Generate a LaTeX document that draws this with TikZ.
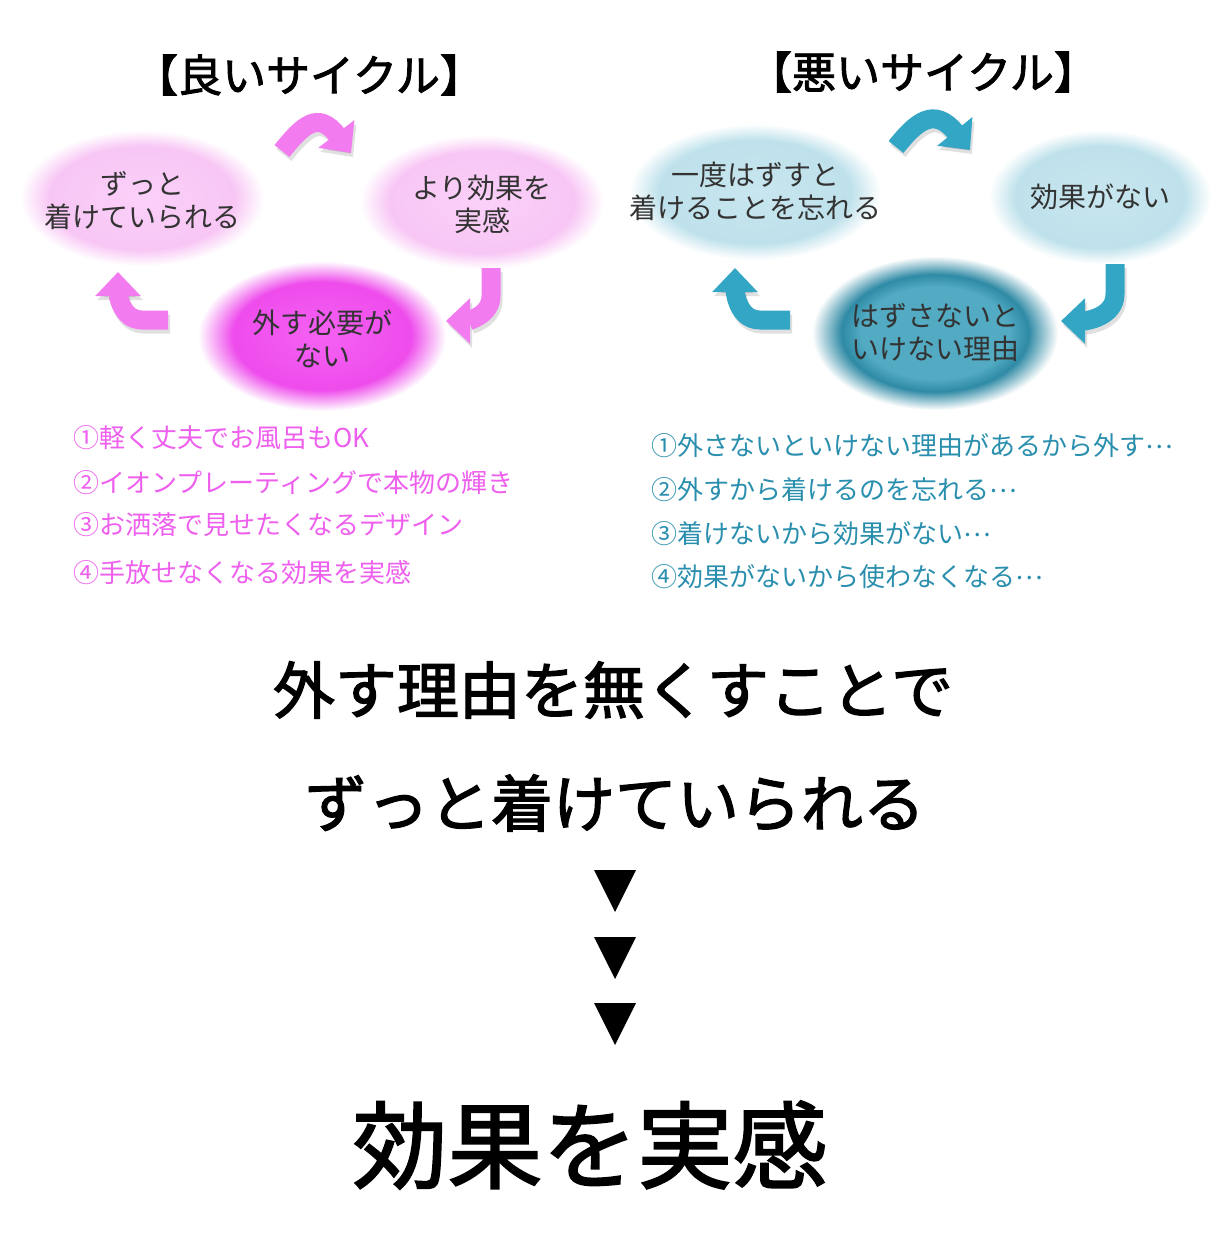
\documentclass[tikz,border=0pt]{standalone}
\usepackage{fontspec}
\setmainfont{Noto Sans CJK JP}
\usetikzlibrary{arrows.meta,shapes.geometric}
\newcommand\mystroke[2]{\special{pdf:literal direct 2 Tr #1 w}#2\special{pdf:literal direct 0 Tr}}
\newcommand\middots{\raisebox{0.3em}{…}}
\definecolor{pinkA}{HTML}{F8C6F5}
\definecolor{pinkAc}{HTML}{FAD0F8}
\definecolor{pinkC}{HTML}{F562F3}
\definecolor{pinkCe}{HTML}{EE4CEC}
\definecolor{blueA}{HTML}{BEE1EB}
\definecolor{blueAc}{HTML}{C8E6EF}
\definecolor{tealF}{HTML}{52ABC3}
\definecolor{tealFe}{HTML}{2F8AA5}
\definecolor{pinkArrow}{HTML}{F27BF0}
\definecolor{tealArrow}{HTML}{33A6C6}
\definecolor{pinkText}{HTML}{EE5FEE}
\definecolor{tealText}{HTML}{2A8FAE}
\definecolor{bubbleText}{HTML}{333333}
\pgfdeclareradialshading{glowpink}{\pgfpoint{0bp}{0bp}}{color(0bp)=(pinkAc); color(19bp)=(pinkA); color(25bp)=(white); color(50bp)=(white)}
\pgfdeclareradialshading{glowmag}{\pgfpoint{0bp}{0bp}}{color(0bp)=(pinkC); color(18bp)=(pinkCe); color(25bp)=(white); color(50bp)=(white)}
\pgfdeclareradialshading{glowblue}{\pgfpoint{0bp}{0bp}}{color(0bp)=(blueAc); color(19bp)=(blueA); color(25bp)=(white); color(50bp)=(white)}
\pgfdeclareradialshading{glowteal}{\pgfpoint{0bp}{0bp}}{color(0bp)=(tealF); color(15bp)=(tealF); color(19bp)=(tealFe); color(25bp)=(white); color(50bp)=(white)}
\tikzset{
  bubble/.style={ellipse, inner sep=0pt},
  btext/.style={align=center, text=bubbleText, inner sep=0pt,
    font=\fontsize{28}{33}\selectfont},
  bpink/.style={bubble, shading=glowpink},
  bmag/.style={bubble, shading=glowmag},
  bblue/.style={bubble, shading=glowblue},
  bteal/.style={bubble, shading=glowteal},
  arrowbase/.style={line width=19pt, -{Triangle[length=24pt,width=44pt]}},
  arrP/.style={arrowbase, draw=pinkArrow},
  arrT/.style={arrowbase, draw=tealArrow},
  shadowline/.style={arrowbase, draw=black, opacity=0.12},
  title/.style={font=\fontsize{44}{44}\selectfont},
  listP/.style={anchor=west, text=pinkText, font=\fontsize{26}{30}\selectfont},
  listT/.style={anchor=west, text=tealText, font=\fontsize{26}{30}\selectfont},
  bigtext/.style={font=\fontsize{62}{62}\selectfont},
  hugetext/.style={font=\fontsize{95}{95}\selectfont},
  tri/.style={fill=black}
}
\begin{document}
\begin{tikzpicture}[x=1pt,y=-1pt]
\useasboundingbox (0,0) rectangle (1230,1241);
\fill[white] (0,0) rectangle (1230,1241);

% ---------- Good cycle ----------
\node[title] (t1) at (309,75) {\mystroke{0.9}{【良いサイクル】}};
\node[bpink, minimum width=244pt, minimum height=136pt] (a) at (142,198) {};
\node[btext] (at) at (142,201) {ずっと\\着けていられる};
\node[bpink, minimum width=244pt, minimum height=134pt] (b) at (482,202) {};
\node[btext] (bt) at (482,204) {より効果を\\実感};
\node[bmag, minimum width=248pt, minimum height=150pt] (c) at (322,336) {};
\node[btext] (ct) at (322,339) {外す必要が\\ない};

\coordinate (ga1) at (282,151);
\coordinate (ga2) at (351,153);
\coordinate (gb1) at (491,268);
\coordinate (gb2) at (446,321);
\coordinate (gc1) at (168,320);
\coordinate (gc2) at (118,272);
\draw[shadowline, transform canvas={shift={(2pt,-4pt)}}] (ga1) .. controls (302,126) and (318,110) .. (ga2);
\draw[arrP] (ga1) .. controls (302,126) and (318,110) .. (ga2);
\draw[shadowline, transform canvas={shift={(2pt,-4pt)}}] (gb1) -- (491,296) to[out=-90,in=0] (gb2);
\draw[arrP] (gb1) -- (491,296) to[out=-90,in=0] (gb2);
\draw[shadowline, transform canvas={shift={(2pt,-4pt)}}] (gc1) -- (142,320) to[out=180,in=-90] (gc2);
\draw[arrP] (gc1) -- (142,320) to[out=180,in=-90] (gc2);

\node[listP] (l1) at (70,438) {①軽く丈夫でお風呂もOK};
\node[listP] (l2) at (70,483) {②イオンプレーティングで本物の輝き};
\node[listP] (l3) at (70,525) {③お洒落で見せたくなるデザイン};
\node[listP] (l4) at (70,573) {④手放せなくなる効果を実感};

% ---------- Bad cycle ----------
\node[title] (t2) at (923,72) {\mystroke{0.9}{【悪いサイクル】}};
\node[bblue, minimum width=252pt, minimum height=136pt] (d) at (755,192) {};
\node[btext] (dt) at (755,191) {一度はずすと\\着けることを忘れる};
\node[bblue, minimum width=222pt, minimum height=134pt] (e) at (1100,197) {};
\node[btext] (et) at (e) {効果がない};
\node[bteal, minimum width=246pt, minimum height=154pt] (f) at (935,333) {};
\node[btext] (ft) at (f) {はずさないと\\いけない理由};

\coordinate (ba1) at (896,147);
\coordinate (ba2) at (970,150);
\coordinate (bb1) at (1115,264);
\coordinate (bb2) at (1061,321);
\coordinate (bc1) at (790,320);
\coordinate (bc2) at (735,268);
\draw[shadowline, transform canvas={shift={(2pt,-4pt)}}] (ba1) .. controls (916,122) and (934,106) .. (ba2);
\draw[arrT] (ba1) .. controls (916,122) and (934,106) .. (ba2);
\draw[shadowline, transform canvas={shift={(2pt,-4pt)}}] (bb1) -- (1115,294) to[out=-90,in=0] (bb2);
\draw[arrT] (bb1) -- (1115,294) to[out=-90,in=0] (bb2);
\draw[shadowline, transform canvas={shift={(2pt,-4pt)}}] (bc1) -- (760,320) to[out=180,in=-90] (bc2);
\draw[arrT] (bc1) -- (760,320) to[out=180,in=-90] (bc2);

\node[listT] (r1) at (648,446) {①外さないといけない理由があるから外す\middots};
\node[listT] (r2) at (648,490) {②外すから着けるのを忘れる\middots};
\node[listT] (r3) at (648,534) {③着けないから効果がない\middots};
\node[listT] (r4) at (648,577) {④効果がないから使わなくなる\middots};

% ---------- Conclusion ----------
\node[bigtext] (m1) at (613,690) {\mystroke{1.3}{外す理由を無くすことで}};
\node[bigtext] (m2) at (615,803) {\mystroke{1.3}{ずっと着けていられる}};
\fill[tri] (594,870) -- (636,870) -- (615,912) -- cycle;
\fill[tri] (594,937) -- (636,937) -- (615,979) -- cycle;
\fill[tri] (594,1003) -- (636,1003) -- (615,1045) -- cycle;
\node[hugetext] (fin) at (590,1145) {\mystroke{1.8}{効果を実感}};
\end{tikzpicture}
\end{document}
